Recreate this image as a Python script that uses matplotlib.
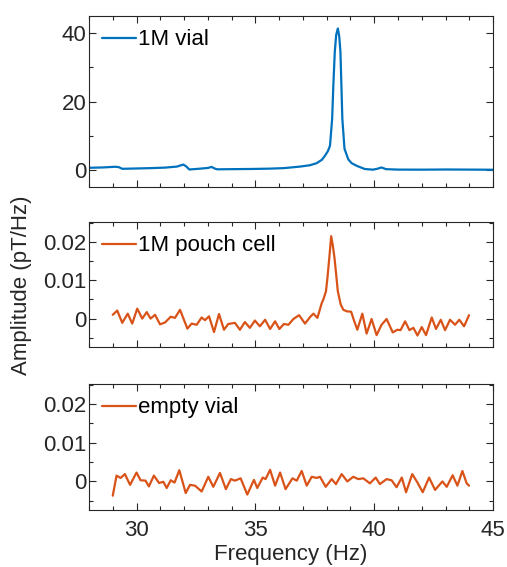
import numpy as np
import matplotlib
matplotlib.use("Agg")
import matplotlib.pyplot as plt
from matplotlib.ticker import MultipleLocator, FuncFormatter

# 1M vial spectrum (pT/Hz)
vial_freq = [28.00, 28.60, 29.10, 29.25, 29.40, 30.00, 30.60, 31.20, 31.70, 31.97,
             32.10, 32.22, 32.60, 33.00, 33.16, 33.30, 33.40, 34.00, 34.80, 35.60,
             36.20, 36.88, 37.30, 37.58, 37.80, 37.93, 38.05, 38.14, 38.23, 38.28,
             38.34, 38.40, 38.47, 38.53, 38.58, 38.62, 38.66, 38.75, 38.91, 39.05,
             39.27, 39.60, 39.95, 40.15, 40.30, 40.50, 41.00, 42.00, 43.00, 44.00, 45.00]
vial_amp = [0.65, 0.75, 0.95, 0.85, 0.35, 0.45, 0.55, 0.70, 1.00, 1.60,
            1.00, 0.15, 0.35, 0.60, 0.90, 0.40, 0.20, 0.25, 0.30, 0.40,
            0.55, 1.00, 1.40, 2.00, 3.00, 4.20, 5.50, 7.10, 14.9, 24.6,
            34.4, 39.5, 41.4, 39.0, 34.4, 24.6, 14.9, 6.2, 3.1, 2.0,
            1.20, 0.30, 0.10, 0.40, 0.75, 0.25, 0.12, 0.10, 0.15, 0.12, 0.08]

# 1M pouch cell spectrum
pouch_freq = [29.00, 29.19, 29.40, 29.63, 29.82, 30.03, 30.24, 30.43, 30.59, 30.78,
              30.99, 31.20, 31.44, 31.62, 31.83, 32.14, 32.32, 32.53, 32.74, 32.88,
              33.05, 33.26, 33.47, 33.68, 33.86, 34.14, 34.35, 34.56, 34.77, 34.98,
              35.19, 35.41, 35.62, 35.83, 36.01, 36.20, 36.39, 36.60, 36.84, 37.09,
              37.30, 37.44, 37.61, 37.72, 37.79, 37.86, 37.97, 38.03, 38.11, 38.19,
              38.26, 38.33, 38.47, 38.59, 38.70, 38.85, 39.03, 39.15, 39.29, 39.50,
              39.68, 39.89, 40.10, 40.31, 40.52, 40.78, 40.97, 41.11, 41.30, 41.48,
              41.65, 41.82, 42.00, 42.18, 42.42, 42.60, 42.80, 42.98, 43.19, 43.40,
              43.58, 43.78, 43.99]
pouch_amp = [0.0010, 0.0021, -0.0011, 0.0013, -0.0013, 0.0026, 0.0000, 0.0017, 0.0000, 0.0010,
             -0.0015, -0.0010, 0.0005, 0.0002, 0.0023, -0.0026, -0.0013, -0.0016, 0.0003, -0.0004,
             0.0006, -0.0035, 0.0012, -0.0029, -0.0014, -0.0011, -0.0029, -0.0009, -0.0024, -0.0005,
             -0.0020, -0.0003, -0.0027, -0.0007, -0.0027, -0.0014, -0.0016, -0.0001, 0.0009, -0.0013,
             0.0004, 0.0013, 0.0002, 0.0025, 0.0040, 0.0050, 0.0071, 0.0105, 0.0158, 0.0215,
             0.0190, 0.0158, 0.0071, 0.0037, 0.0023, 0.0019, 0.0018, -0.0005, -0.0029, 0.0013,
             -0.0039, -0.0001, -0.0043, -0.0016, -0.0001, -0.0036, -0.0029, -0.0030, -0.0007, -0.0030,
             -0.0024, -0.0044, -0.0022, -0.0043, 0.0003, -0.0027, -0.0003, -0.0030, -0.0003, -0.0016,
             -0.0003, -0.0020, 0.0009]

# empty vial spectrum
empty_freq = [29.00, 29.16, 29.33, 29.51, 29.73, 30.00, 30.17, 30.38, 30.52, 30.73,
              30.95, 31.13, 31.27, 31.44, 31.60, 31.80, 32.07, 32.25, 32.46, 32.74,
              33.02, 33.23, 33.51, 33.76, 33.97, 34.14, 34.38, 34.66, 34.94, 35.08,
              35.31, 35.43, 35.62, 35.83, 36.04, 36.27, 36.56, 36.74, 36.95, 37.16,
              37.37, 37.58, 37.72, 37.96, 38.21, 38.39, 38.63, 38.87, 39.12, 39.33,
              39.54, 39.82, 40.06, 40.24, 40.52, 40.73, 40.94, 41.16, 41.34, 41.60,
              41.82, 42.04, 42.31, 42.56, 42.87, 43.05, 43.30, 43.50, 43.71, 43.89, 43.99]
empty_amp = [-0.0037, 0.0015, 0.0009, 0.0019, -0.0009, 0.0023, 0.0003, 0.0002, -0.0013, 0.0015,
             -0.0004, -0.0001, -0.0017, 0.0003, -0.0003, 0.0029, -0.0030, -0.0009, -0.0011, -0.0026,
             0.0012, -0.0014, 0.0022, -0.0020, 0.0006, 0.0002, 0.0008, -0.0034, 0.0004, -0.0017,
             0.0010, 0.0006, 0.0030, -0.0011, 0.0023, -0.0020, 0.0008, 0.0002, 0.0027, -0.0011,
             0.0012, 0.0009, 0.0012, -0.0014, 0.0006, -0.0007, 0.0019, 0.0000, 0.0012, 0.0006,
             0.0008, -0.0005, 0.0010, -0.0007, 0.0006, 0.0003, -0.0015, 0.0010, -0.0028, 0.0019,
             -0.0003, -0.0028, 0.0010, -0.0022, 0.0000, -0.0014, 0.0016, -0.0011, 0.0027, -0.0005, -0.0011]

plt.rcParams['font.family'] = ['Liberation Sans', 'DejaVu Sans']
plt.rcParams['font.size'] = 16

blue = '#0072BD'
orange = '#D95319'
dark = '#262626'

fig = plt.figure(figsize=(5.07, 5.67), dpi=100)
ax1 = fig.add_axes([0.1755, 0.670, 0.797, 0.3016])
ax2 = fig.add_axes([0.1755, 0.388, 0.797, 0.2205])
ax3 = fig.add_axes([0.1755, 0.1005, 0.797, 0.2222])

line_kw = dict(lw=1.6, solid_joinstyle='round', solid_capstyle='round')
ax1.plot(vial_freq, vial_amp, color=blue, label='1M vial', **line_kw)
ax2.plot(pouch_freq, pouch_amp, color=orange, label='1M pouch cell', **line_kw)
ax3.plot(empty_freq, empty_amp, color=orange, label='empty vial', **line_kw)

ax1.set_ylim(-5, 45)
ax1.yaxis.set_major_locator(MultipleLocator(20))
ax1.yaxis.set_minor_locator(MultipleLocator(10))
for ax in (ax2, ax3):
    ax.set_ylim(-0.0074, 0.0252)
    ax.yaxis.set_major_locator(MultipleLocator(0.01))
    ax.yaxis.set_minor_locator(MultipleLocator(0.005))
    ax.yaxis.set_major_formatter(FuncFormatter(lambda v, p: '%g' % round(v, 4)))

for ax in (ax1, ax2, ax3):
    ax.set_xlim(28, 45)
    ax.xaxis.set_major_locator(MultipleLocator(5))
    ax.xaxis.set_minor_locator(MultipleLocator(1))
    ax.tick_params(which='both', direction='in', top=True, right=True,
                   color=dark, labelcolor=dark, width=0.8)
    ax.tick_params(which='major', length=5, labelsize=16)
    ax.tick_params(axis='y', which='major', pad=2)
    ax.tick_params(axis='x', which='major', pad=7)
    ax.tick_params(which='minor', length=3)
    for s in ax.spines.values():
        s.set_color(dark)
        s.set_linewidth(0.8)
    ax.legend(loc='upper left', frameon=False, handlelength=1.5, handletextpad=0.1,
              borderaxespad=0.2, fontsize=16)

ax1.tick_params(labelbottom=False)
ax2.tick_params(labelbottom=False)

ax3.set_xlabel('Frequency (Hz)', fontsize=16, color=dark, labelpad=2)
fig.text(0.043, 0.497, 'Amplitude (pT/Hz)', rotation=90, ha='center', va='center',
         fontsize=16, color=dark)

plt.savefig('out.png', dpi=100)
